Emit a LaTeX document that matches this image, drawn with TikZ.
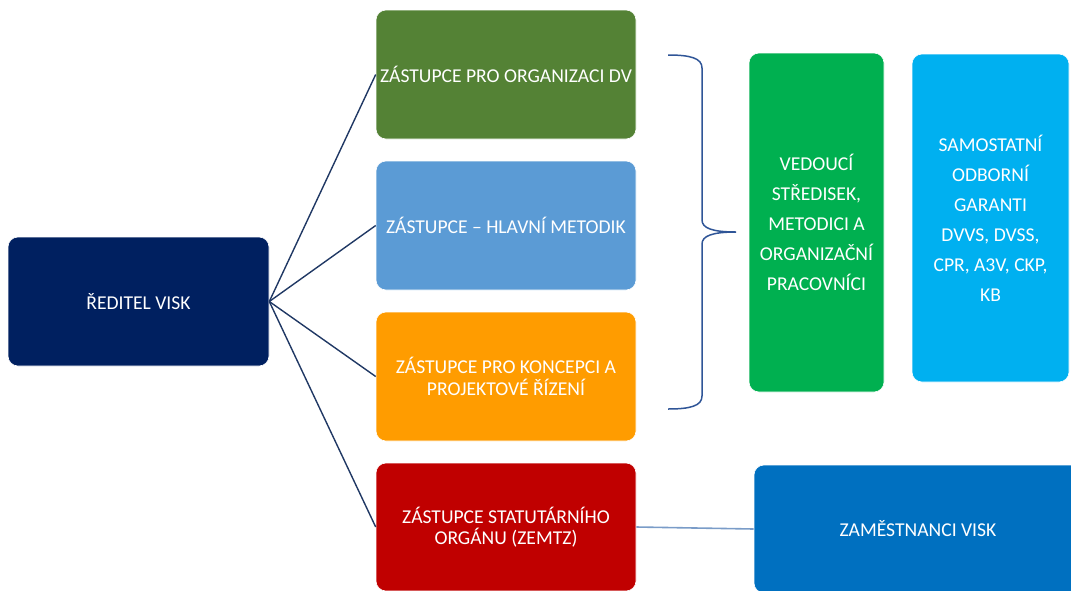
\documentclass[tikz,border=0pt]{standalone}
\usepackage{fontspec}
\setmainfont{Carlito}
\definecolor{cnavy}{HTML}{002060}
\definecolor{cgreen}{HTML}{548235}
\definecolor{cblue}{HTML}{5B9BD5}
\definecolor{corange}{HTML}{FF9C00}
\definecolor{cred}{HTML}{C00000}
\definecolor{cgreenb}{HTML}{00B050}
\definecolor{ccyan}{HTML}{00B0F0}
\definecolor{cdblue}{HTML}{0070C0}
\definecolor{cline}{HTML}{203864}
\definecolor{cbrace}{HTML}{2F5597}
\definecolor{clight}{HTML}{7A9CC8}
\tikzset{
  box/.style={rounded corners=10pt, draw=white, line width=0.6pt, inner sep=0pt, text=white, align=center, font=\fontsize{19.6}{21.5}\selectfont},
  tall/.style={font=\fontsize{19.6}{30}\selectfont},
  conn/.style={draw=cline, line width=1.4pt},
}
\begin{document}
\begin{tikzpicture}[x=1pt,y=-1pt]
\useasboundingbox (0,0) rectangle (1071,590);
\clip (0,0) rectangle (1071,590);
\node[box, fill=cnavy, minimum width=261pt, minimum height=129pt] (dir) at (138.5,301.5) {ŘEDITEL VISK};
\node[box, fill=cgreen, minimum width=260pt, minimum height=129pt] (org) at (506,74.5) {ZÁSTUPCE PRO ORGANIZACI DV};
\node[box, fill=cblue, minimum width=260pt, minimum height=129pt] (met) at (506,225.5) {ZÁSTUPCE – HLAVNÍ METODIK};
\node[box, fill=corange, minimum width=260pt, minimum height=129pt] (kon) at (506,376.5) {ZÁSTUPCE PRO KONCEPCI A\\PROJEKTOVÉ ŘÍZENÍ};
\node[box, fill=cred, minimum width=260pt, minimum height=128pt] (stat) at (506,527) {ZÁSTUPCE STATUTÁRNÍHO\\ORGÁNU (ZEMTZ)};
\node[box, tall, fill=cgreenb, minimum width=135pt, minimum height=339pt] (ved) at (816.5,222.5) {VEDOUCÍ\\STŘEDISEK,\\METODICI A\\ORGANIZAČNÍ\\PRACOVNÍCI};
\node[box, tall, fill=ccyan, minimum width=157pt, minimum height=328pt] (sam) at (990.5,218) {SAMOSTATNÍ\\ODBORNÍ\\GARANTI\\DVVS, DVSS,\\CPR, A3V, CKP,\\KB};
\node[box, fill=cdblue, minimum width=328pt, minimum height=128pt] (zam) at (918,529) {ZAMĚSTNANCI VISK};
\draw[conn] (dir.east) -- (org.west);
\draw[conn] (dir.east) -- (met.west);
\draw[conn] (dir.east) -- (kon.west);
\draw[conn] (dir.east) -- (stat.west);
\draw[draw=clight, line width=1.6pt] (stat.east) -- (zam.west);
\draw[draw=cbrace, line width=1.5pt] (668,55) .. controls (690,55) and (702,58) .. (702,68) -- (702,220) .. controls (702,228) and (712,232) .. (736,232) .. controls (712,232) and (702,236) .. (702,244) -- (702,396) .. controls (702,406) and (690,409) .. (668,409);
\end{tikzpicture}
\end{document}
